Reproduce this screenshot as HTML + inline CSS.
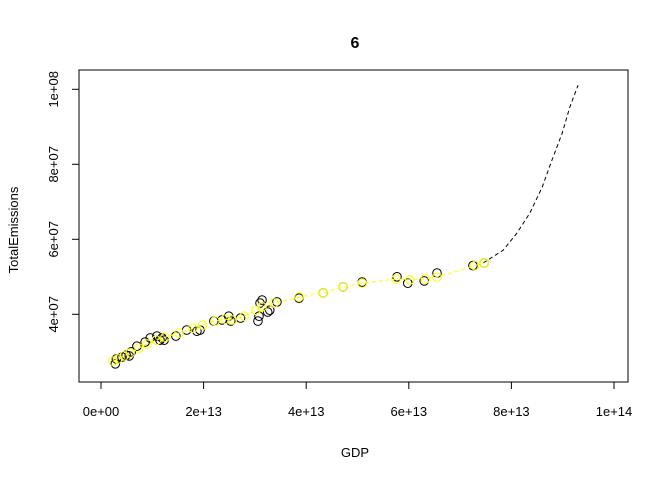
<!DOCTYPE html>
<html><head><meta charset="utf-8"><style>
body{margin:0;background:#fff}
svg{display:block;font-family:"Liberation Sans",Arial,sans-serif}
</style></head><body>
<svg id="chart" width="672" height="480" viewBox="0 0 672 480">
<defs><clipPath id="clip"><rect x="79" y="70" width="549" height="312"/></clipPath></defs>
<text x="355" y="48" text-anchor="middle" font-size="16" font-weight="bold">6</text>
<text x="355" y="457" text-anchor="middle" font-size="13">GDP</text>
<text transform="translate(18,230) rotate(-90)" text-anchor="middle" font-size="13">TotalEmissions</text>
<rect x="79" y="70" width="549" height="312" fill="none" stroke="#000" stroke-width="1"/>
<g id="xaxis"></g>
<g id="yaxis"></g>
<g id="marks" clip-path="url(#clip)"></g>
</svg>
<script>
const xTicks=[0,2,4,6,8,10];
const xTickLabels=["0e+00","2e+13","4e+13","6e+13","8e+13","1e+14"];
const yTicks=[40,60,80,100];
const yTickLabels=["4e+07","6e+07","8e+07","1e+08"];
// GDP in 1e13, emissions in 1e6
const obsX=[0.28,0.30,0.41,0.49,0.55,0.59,0.70,0.86,0.96,1.09,1.15,1.19,1.23,1.46,1.67,1.87,1.93,2.20,2.36,2.49,2.53,2.72,3.06,3.08,3.14,3.10,3.25,3.29,3.43,3.86,4.33,4.72,5.09,5.77,5.98,6.30,6.55,7.25,7.47];
const obsY=[26.8,28.1,28.6,29.1,28.9,30.0,31.5,32.6,33.7,34.2,33.1,33.7,33.1,34.2,35.8,35.5,35.8,38.2,38.5,39.5,38.2,39.0,38.2,39.5,43.8,43.0,40.6,41.1,43.3,44.3,45.7,47.3,48.6,50.0,48.3,48.9,51.0,53.0,53.7];
const fitX=[0.23,0.33,0.45,0.57,0.74,0.90,1.08,1.25,1.52,1.79,1.98,2.22,2.42,2.56,2.79,3.02,3.14,3.37,3.86,4.33,4.72,5.09,5.75,6.02,6.32,6.55,7.29,7.47];
const fitY=[27.5,28.1,28.9,29.7,31.0,32.1,33.1,33.9,35.0,36.3,37.1,38.2,38.7,38.5,39.5,41.1,42.0,43.0,44.6,45.7,47.3,48.3,49.4,49.2,49.4,49.9,53.0,53.7];
const curveX=[7.45,7.84,8.11,8.36,8.60,8.79,8.99,9.14,9.30];
const curveY=[53.7,57.1,61.7,67.0,73.9,81.1,88.3,95.3,101.1];

const X=v=>101+v*51.3, Y=v=>464.3-v*3.75;
const NS="http://www.w3.org/2000/svg";
function mk(t,a,p){const e=document.createElementNS(NS,t);for(const k in a)e.setAttribute(k,a[k]);p.appendChild(e);return e;}
const xa=document.getElementById('xaxis'),ya=document.getElementById('yaxis'),m=document.getElementById('marks');
mk('line',{x1:X(0),x2:X(10),y1:382,y2:382,stroke:'#000'},xa);
xTicks.forEach((t,i)=>{
  const l=mk('line',{x1:X(t),x2:X(t),y1:382,y2:389,stroke:'#000'},xa);
  
  
  const tx=mk('text',{x:X(t),y:416,'text-anchor':'middle','font-size':13},xa);tx.textContent=xTickLabels[i];
  
  
});
mk('line',{x1:79,x2:79,y1:Y(40),y2:Y(100),stroke:'#000'},ya);
yTicks.forEach((t,i)=>{
  const l=mk('line',{x1:72,x2:79,y1:Y(t),y2:Y(t),stroke:'#000'},ya);
  
  
  const tx=mk('text',{transform:`translate(58,${Y(t)}) rotate(-90)`,'text-anchor':'middle','font-size':13},ya);tx.textContent=yTickLabels[i];
  
  
});
const cp=mk('polyline',{points:curveX.map((v,i)=>X(v)+','+Y(curveY[i])).join(' '),fill:'none',stroke:'#000','stroke-dasharray':'4,3'},m);


obsX.forEach((v,i)=>{
  const c=mk('circle',{cx:X(v),cy:Y(obsY[i]),r:4.3,fill:'none',stroke:'#000'},m);
  
  
});
const fl=mk('polyline',{points:fitX.map((v,i)=>X(v)+','+Y(fitY[i])).join(' '),fill:'none',stroke:'#ffff00','stroke-dasharray':'4,3'},m);


fitX.forEach((v,i)=>{
  const c=mk('circle',{cx:X(v),cy:Y(fitY[i]),r:4.3,fill:'none',stroke:'#ffff00'},m);
  
  
});
</script>
</body></html>
